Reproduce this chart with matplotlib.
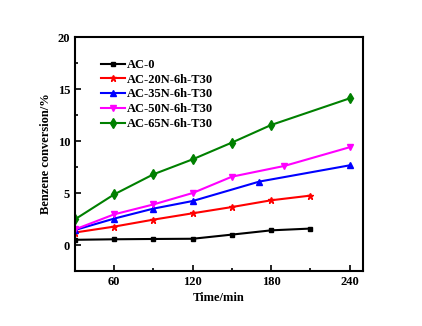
import numpy as np
import matplotlib
matplotlib.use('Agg')
import matplotlib.pyplot as plt
from matplotlib.ticker import MultipleLocator

plt.rcParams['font.family'] = ['Liberation Serif', 'DejaVu Serif']
plt.rcParams['font.weight'] = 'bold'

# data
t_ac0 = [30, 60, 90, 120, 150, 180, 210]
y_ac0 = [0.5, 0.55, 0.58, 0.6, 1.0, 1.41, 1.58]

t_20n = [30, 60, 90, 120, 150, 180, 210]
y_20n = [1.2, 1.77, 2.44, 3.05, 3.65, 4.3, 4.75]

t_35n = [30, 60, 90, 120, 171, 240]
y_35n = [1.44, 2.54, 3.5, 4.23, 6.1, 7.66]

t_50n = [30, 60, 90, 120, 150, 190, 240]
y_50n = [1.5, 2.95, 3.9, 5.0, 6.57, 7.6, 9.4]

t_65n = [30, 60, 90, 120, 150, 180, 240]
y_65n = [2.47, 4.87, 6.8, 8.24, 9.85, 11.54, 14.1]

labels = ['AC-0', 'AC-20N-6h-T30', 'AC-35N-6h-T30', 'AC-50N-6h-T30', 'AC-65N-6h-T30']

fig = plt.figure(figsize=(4.22, 3.26), dpi=100)
ax = fig.add_axes([0.1777, 0.1687, 0.6818, 0.7178])

ax.plot(t_ac0, y_ac0, color='black', marker='s', ms=3.5, lw=1.5, label=labels[0])
ax.plot(t_20n, y_20n, color='red', marker='*', ms=5, lw=1.5, label=labels[1])
ax.plot(t_35n, y_35n, color='blue', marker='^', ms=4.5, lw=1.5, label=labels[2])
ax.plot(t_50n, y_50n, color='magenta', marker='v', ms=4.5, lw=1.5, label=labels[3])
ax.plot(t_65n, y_65n, color='green', marker='d', ms=5, lw=1.5, label=labels[4])

ax.set_xlim(30, 250)
ax.set_ylim(-2.5, 20)
ax.xaxis.set_minor_locator(MultipleLocator(30))
ax.yaxis.set_major_locator(MultipleLocator(5))
ax.yaxis.set_minor_locator(MultipleLocator(2.5))
ax.set_xticks([60, 120, 180, 240])
ax.tick_params(which='both', direction='in', top=False, right=False, labelsize=9, width=1.2)
ax.tick_params(which='major', length=4)
ax.tick_params(which='minor', length=2)
for s in ax.spines.values():
    s.set_linewidth(1.5)

ax.set_xlabel('Time/min', fontsize=9, fontweight='bold', labelpad=3)
ax.set_ylabel('Benzene conversion/%', fontsize=9, fontweight='bold', labelpad=4)

ax.legend(loc='upper left', bbox_to_anchor=(0.09, 0.906), frameon=False,
          fontsize=9, handlelength=1.9, handletextpad=0.2, labelspacing=0.22,
          borderaxespad=0, borderpad=0)

fig.savefig('out.png', dpi=100)
